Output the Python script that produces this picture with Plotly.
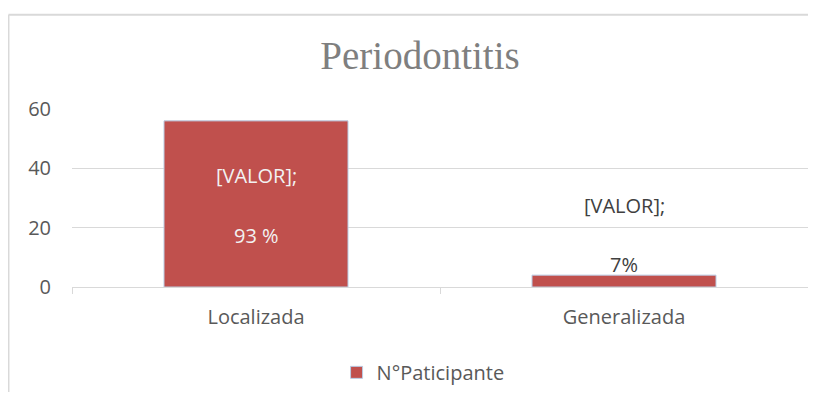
import plotly.graph_objects as go

categories = ["Localizada", "Generalizada"]
participants = [56, 4]
pct_labels = ["93 %", "7%"]
value_labels = ["[VALOR];", "[VALOR];"]

bar_color = "#c0504d"
grey = "#595959"
grid = "#d9d9d9"
font_family = "Open Sans, Noto Sans, sans-serif"

fig = go.Figure()
fig.add_trace(go.Bar(
    x=categories, y=participants, name="N°Paticipante",
    marker=dict(color=bar_color, line=dict(color="#b9cde5", width=1)),
))

# data labels: first bar inside (white), second above the bar (grey)
annotations = []
for i, (cat, val) in enumerate(zip(categories, participants)):
    if i == 0:
        mid = val / 2
        annotations.append(dict(x=cat, y=mid, text=value_labels[i], showarrow=False,
                                yshift=28, font=dict(color="#f2f2f2", size=20, family=font_family)))
        annotations.append(dict(x=cat, y=mid, text=pct_labels[i], showarrow=False,
                                yshift=-32, font=dict(color="#f2f2f2", size=20, family=font_family)))
    else:
        annotations.append(dict(x=cat, y=val, text=pct_labels[i], showarrow=False,
                                yanchor="bottom", yshift=-5, font=dict(color="#404040", size=20, family=font_family)))
        annotations.append(dict(x=cat, y=val, text=value_labels[i], showarrow=False,
                                yanchor="bottom", yshift=54, font=dict(color="#404040", size=20, family=font_family)))

# chart-area border: only top and left edges are visible in the picture
border = [
    dict(type="line", xref="paper", yref="paper", x0=-0.0863, x1=1.2, y0=1.530, y1=1.530,
         line=dict(color=grid, width=2), layer="below"),
    dict(type="line", xref="paper", yref="paper", x0=-0.0863, x1=-0.0863, y0=-1.5, y1=1.530,
         line=dict(color=grid, width=2), layer="below"),
]

fig.update_layout(
    width=800, height=384,
    margin=dict(l=64, r=0, t=101, b=99),
    paper_bgcolor="white", plot_bgcolor="white",
    bargap=0.5,
    title=dict(text="Periodontitis", x=0.515, xanchor="center", y=1 - 47 / 384, yanchor="middle",
               font=dict(family="Liberation Serif, Times New Roman, serif", size=39, color="#7f7f7f")),
    font=dict(family=font_family, size=20, color=grey),
    showlegend=True,
    legend=dict(orientation="h", x=0.477, xanchor="center", y=-0.37, yanchor="top",
                font=dict(size=20, color=grey), itemwidth=30),
    annotations=annotations,
    shapes=border,
)
fig.update_xaxes(showline=True, linecolor=grid, linewidth=1,
                 ticks="outside", tickson="boundaries", ticklen=6, tickcolor=grid,
                 ticklabelstandoff=12, tickfont=dict(size=20, color=grey))
fig.update_yaxes(range=[0, 60], dtick=20, showgrid=True, gridcolor=grid, gridwidth=1,
                 zeroline=False, showline=False, ticklabelstandoff=20,
                 tickfont=dict(size=20, color=grey))

fig.write_html("out.html")
